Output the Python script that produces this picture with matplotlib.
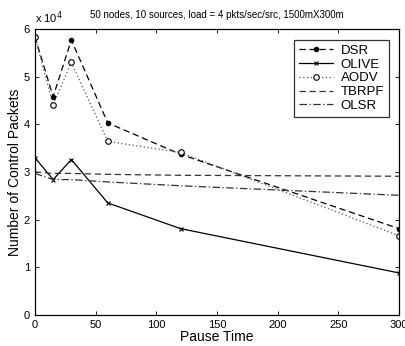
import matplotlib
matplotlib.use("Agg")
import matplotlib.pyplot as plt
from matplotlib.ticker import FuncFormatter, MultipleLocator

plt.rcParams['font.family'] = ['Liberation Sans', 'DejaVu Sans']

pause = [0, 15, 30, 60, 120, 300]
dsr = [58400, 45800, 57700, 40300, 33700, 18100]
olive = [33000, 28400, 32600, 23500, 18100, 8800]
aodv = [58400, 44100, 53000, 36400, 34100, 16600]
tbrpf = [30000, 29700, 29700, 29500, 29300, 29100]
olsr = [29700, 28400, 28400, 27900, 27100, 25100]

fig = plt.figure(figsize=(4.06, 3.46), dpi=100)
ax = fig.add_axes([0.086, 0.09, 0.897, 0.826])

ax.plot(pause, dsr, linestyle=(0, (5, 3)), color='black', lw=0.9, marker='o', ms=3,
        mfc='black', label='DSR')
ax.plot(pause, olive, linestyle='-', color='black', lw=0.9, marker='x', ms=3.5,
        mew=0.8, label='OLIVE')
ax.plot(pause, aodv, linestyle=(0, (1, 2)), color='#555555', lw=0.9, marker='o', ms=4,
        mfc='white', mec='black', mew=0.8, label='AODV')
ax.plot(pause, tbrpf, linestyle=(0, (5, 3)), color='#333333', lw=0.9, label='TBRPF')
ax.plot(pause, olsr, linestyle=(0, (6, 2, 1, 2)), color='#333333', lw=0.9, label='OLSR')

ax.set_xlim(0, 300)
ax.set_ylim(0, 60000)
ax.xaxis.set_major_locator(MultipleLocator(50))
ax.yaxis.set_major_locator(MultipleLocator(10000))
ax.yaxis.set_major_formatter(FuncFormatter(lambda v, p: f"{int(round(v/10000))}"))
ax.tick_params(direction='in', top=True, right=True, labelsize=8, length=3, width=0.6)
for s in ax.spines.values():
    s.set_linewidth(0.9)

ax.set_xlabel('Pause Time', fontsize=10, labelpad=0)
ax.set_ylabel('Number of Control Packets', fontsize=10, labelpad=1)
ax.set_title('50 nodes, 10 sources, load = 4 pkts/sec/src, 1500mX300m', fontsize=7, pad=8)
ax.text(0.0, 1.01, r'x 10$^4$', transform=ax.transAxes, fontsize=8, ha='left', va='bottom')

leg = ax.legend(loc='upper right', fontsize=9.5, frameon=True, fancybox=False,
                edgecolor='black', borderpad=0.35, labelspacing=0.12, handlelength=2.6,
                handletextpad=0.6, bbox_to_anchor=(0.99, 0.985))
leg.get_frame().set_linewidth(0.9)

fig.savefig('out.png', dpi=100)
